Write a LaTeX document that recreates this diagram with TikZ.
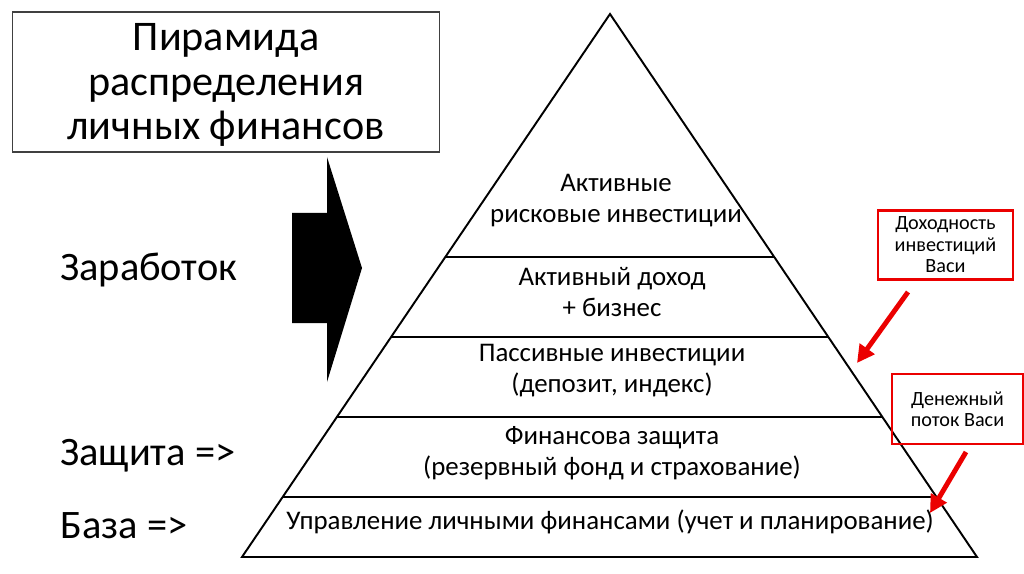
\documentclass[tikz,border=0pt]{standalone}
\usepackage{fontspec}
\setmainfont{Carlito}
\usetikzlibrary{arrows.meta,positioning,calc}

\begin{document}
\begin{tikzpicture}[x=0.02cm,y=-0.02cm,
        every node/.style={inner sep=0pt,align=center},
        tier/.style={font=\fontsize{15.3}{17.6}\selectfont},
        side/.style={font=\fontsize{23}{26}\selectfont,anchor=west},
        redbox/.style={draw=red!92!black,line width=1.6pt,
          font=\fontsize{11.5}{12.2}\selectfont},
        redarrow/.style={draw=red!92!black,line width=2.8pt,
          -{Triangle[length=10pt,width=10pt]}}]
        \useasboundingbox (0,0) rectangle (1024,574);
        % title
        \node[draw=black!75,line width=0.6pt,minimum width=8.56cm,minimum height=2.8cm]
          (titlebox) at (226,82) {};
        \node[font=\fontsize{24}{25.2}\selectfont] (title) at (226,85)
          {Пирамида\\распределения\\личных финансов};
        % arrow
        \fill (292,213) -- (327,213) -- (327,157) -- (362,268) -- (327,382)
          -- (327,323) -- (292,323) -- cycle;
        % pyramid
        \coordinate (apex) at (610,14);
        \coordinate (bl) at (242,557);
        \coordinate (br) at (977,557);
        \draw[line width=1.1pt,line join=miter] (apex) -- (bl) -- (br) -- cycle;
        \foreach \t in {0.4475,0.5948,0.7422,0.8895}
          \draw[line width=0.9pt] ($(apex)!\t!(bl)$) -- ($(apex)!\t!(br)$);
        \node[tier] (risk) at (616,201) {Активные\\рисковые инвестиции};
        \node[tier] (active) at (612,292) {Активный доход\\+ бизнес};
        \node[tier] (passive) at (612,371) {Пассивные инвестиции\\(депозит, индекс)};
        \node[tier] (protect) at (612,453) {Финансова защита\\(резервный фонд и страхование)};
        \node[tier] (base) at (610,522) {Управление личными финансами (учет и планирование)};
        % left labels
        \node[side] (earn) at (60,270) {Заработок};
        \node[side] (guard) at (60,456) {Защита =>};
        \node[side] (found) at (60,526) {База =>};
        % red notes
        \node[redbox,minimum width=2.7cm,minimum height=1.38cm] (yield) at (945.5,245)
          {Доходность\\инвестиций\\Васи};
        \node[redbox,minimum width=2.62cm,minimum height=1.4cm] (flow) at (957.5,409)
          {Денежный\\поток Васи};
        \coordinate (yieldtail) at (908,292);
        \coordinate (yieldtip) at (857,363);
        \coordinate (flowtail) at (966,452);
        \coordinate (flowtip) at (930,513);
        \draw[redarrow] (yieldtail) -- (yieldtip);
        \draw[redarrow] (flowtail) -- (flowtip);
      \end{tikzpicture}
\end{document}
